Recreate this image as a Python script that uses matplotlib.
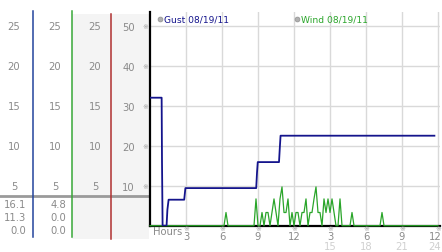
import matplotlib
matplotlib.use("Agg")
import matplotlib.pyplot as plt
import numpy as np
from matplotlib.patches import Rectangle
from matplotlib.transforms import blended_transform_factory

# ---------------- data ----------------
gust_hours = [0, 0.97, 1.0, 1.05, 1.38, 1.45, 1.55, 2.85, 2.95, 8.85, 8.92, 8.98, 10.75, 10.82, 10.88, 23.7]
gust_vals = [32, 32, 16, 0, 0, 4, 6.5, 6.5, 9.4, 9.4, 13.4, 15.9, 15.9, 19.6, 22.5, 22.5]

wind_step_h = 1 / 6  # 10-minute samples
wind_vals = [
    0, 0, 0, 0, 0, 0, 0, 0, 0, 0, 0, 0, 0, 0, 0, 0, 0, 0, 0, 0,
    0, 0, 0, 0, 0, 0, 0, 0, 0, 0, 0, 0, 0, 0, 0, 0, 0, 0, 3.3, 0,
    0, 0, 0, 0, 0, 0, 0, 0, 0, 0, 0, 0, 0, 6.7, 0, 0, 3.3, 0, 3.3, 3.3,
    0, 3.3, 6.7, 3.3, 0, 6.7, 9.7, 3.3, 3.3, 6.7, 0, 3.3, 0, 3.3, 3.3, 0, 3.3, 3.3, 6.7, 0,
    3.3, 3.3, 6.7, 9.7, 3.3, 3.3, 0, 6.7, 3.3, 6.7, 3.3, 6.7, 3.3, 0, 0, 6.7, 0, 0, 0, 0,
    0, 3.3, 0, 0, 0, 0, 0, 0, 0, 0, 0, 0, 0, 0, 0, 0, 3.3, 0, 0, 0,
    0, 0, 0, 0, 0, 0, 0, 0, 0, 0, 0, 0, 0, 0, 0, 0, 0, 0, 0, 0,
    0, 0, 0, 0, 0,
]

main_yticks = [10, 20, 30, 40, 50]
main_xticks = [3, 6, 9, 12, 15, 18, 21, 24]
main_xlabels = ["3", "6", "9", "12", "3", "6", "9", "12"]
second_row_ticks = [15, 18, 21, 24]
second_row_labels = ["15", "18", "21", "24"]

left_scale = [25, 20, 15, 10, 5]
stats_col1 = ["16.1", "11.3", "0.0"]
stats_col2 = ["4.8", "0.0", "0.0"]

legend_labels = ["Gust 08/19/11", "Wind 08/19/11"]

# ---------------- style / layout ----------------
W, H = 442, 253
GUST = "#14148c"
WIND = "#2aa52a"
GRAY_TXT = "#8a8a8a"
GRID = "#d9d9d9"
FS = 7.2
plt.rcParams["font.family"] = ["DejaVu Sans"]

fig = plt.figure(figsize=(W / 100, H / 100), dpi=100)
fig.patch.set_facecolor("white")

base_px = 226.7  # baseline y (from top)
top_px = 12.7
ax_h = base_px - top_px

# ---------------- left panel ----------------
axl = fig.add_axes([0, (H - base_px) / H, 149 / W, ax_h / H])
axl.set_xlim(0, 149)
axl.set_ylim(0, ax_h / 8)
axl.axis("off")
axl.set_zorder(1)


def v(ypx):
    return (base_px - ypx) / 8


axl.add_patch(Rectangle((72, v(240)), 77, v(15) - v(240), facecolor="#f4f4f4",
                        edgecolor="none", clip_on=False, zorder=0))
axl.plot([0, 149], [v(197), v(197)], color="#9a9a9a", lw=2, clip_on=False, zorder=2)
axl.plot([33, 33], [v(238), v(12)], color="#23449c", lw=1.1, clip_on=False, zorder=3)
axl.plot([72, 72], [v(238), v(12)], color="#38a838", lw=1.1, clip_on=False, zorder=3)
axl.plot([111, 111], [v(240), v(15)], color="#b03030", lw=1.1, clip_on=False, zorder=3)

for xc in [14, 55, 95]:
    for val in left_scale:
        axl.text(xc, val, str(val), fontsize=FS, color=GRAY_TXT, ha="center",
                 va="center", clip_on=False)

for ypx, a, b in zip([205, 218, 231.5], stats_col1, stats_col2):
    axl.text(26, v(ypx), a, fontsize=FS, color=GRAY_TXT, ha="right", va="center", clip_on=False)
    axl.text(66.5, v(ypx), b, fontsize=FS, color=GRAY_TXT, ha="right", va="center", clip_on=False)

# ---------------- main axes ----------------
ax = fig.add_axes([150 / W, (H - base_px) / H, 290 / W, ax_h / H])
ax.set_zorder(2)
ax.set_xlim(0, 290 / 12)
ax.set_ylim(0, 53.5)
ax.set_facecolor("white")
for s in ["top", "right"]:
    ax.spines[s].set_visible(False)
ax.spines["left"].set_linewidth(1.6)
ax.spines["bottom"].set_linewidth(1.6)
ax.spines["left"].set_color("black")
ax.spines["bottom"].set_color("black")

ax.set_xticks(main_xticks)
ax.set_xticklabels([])
ax.set_yticks(main_yticks)
ax.set_yticklabels([str(v_) for v_ in main_yticks], fontsize=FS, color=GRAY_TXT)
ax.tick_params(axis="x", length=0)
ax.tick_params(axis="y", length=0, pad=11)
ax.grid(True, color=GRID, lw=1)
ax.set_axisbelow(True)

# data lines
wind_hours = np.arange(len(wind_vals)) * wind_step_h
ax.plot(wind_hours, wind_vals, color=WIND, lw=0.9, zorder=3, clip_on=False)
ax.plot(gust_hours, gust_vals, color=GUST, lw=1.3, zorder=4)

tr_x = blended_transform_factory(ax.transData, ax.transAxes)
tr_y = blended_transform_factory(ax.transAxes, ax.transData)

# x labels (two rows)
row1_y = -(237 - base_px) / ax_h
row2_y = -(247.5 - base_px) / ax_h
for h, lab in zip(main_xticks, main_xlabels):
    if h == main_xticks[-1]:
        ax.text(h + 3.3 / 12, row1_y, lab, transform=tr_x, fontsize=FS, color=GRAY_TXT,
                ha="right", va="center", clip_on=False)
    else:
        ax.text(h, row1_y, lab, transform=tr_x, fontsize=FS, color=GRAY_TXT,
                ha="center", va="center", clip_on=False)
for h, lab in zip(second_row_ticks, second_row_labels):
    if h == second_row_ticks[-1]:
        ax.text(h + 3.3 / 12, row2_y, lab, transform=tr_x, fontsize=FS, color="#d0d0d0",
                ha="right", va="center", clip_on=False)
    else:
        ax.text(h, row2_y, lab, transform=tr_x, fontsize=FS, color="#d0d0d0",
                ha="center", va="center", clip_on=False)

# small marks next to ticks
for h in main_xticks:
    ax.text(h, -(229.5 - base_px) / ax_h, "\u203b", transform=tr_x, fontsize=5,
            color="#a0a0a0", ha="center", va="center", clip_on=False)
for val in main_yticks:
    ax.text(-0.017, val, "\u203b", transform=tr_y, fontsize=5, color="#a0a0a0",
            ha="center", va="center", clip_on=False)
ax.text(0.25, -(232 - base_px) / ax_h, "Hours", transform=tr_x, fontsize=FS,
        color=GRAY_TXT, ha="left", va="center", clip_on=False)

# legend
leg_y = (base_px - 20) / ax_h
for xpx, lab, col in [(160, legend_labels[0], GUST), (297, legend_labels[1], WIND)]:
    xf = (xpx - 150) / 290
    ax.plot([xf], [leg_y], marker="o", ms=3.5, color="#b0b0b0", mec="#909090",
            mew=0.5, transform=ax.transAxes, clip_on=False, zorder=5)
    ax.text(xf + 4 / 290, leg_y, lab, transform=ax.transAxes, fontsize=6.6,
            color=col, ha="left", va="center", clip_on=False)

fig.savefig("out.png", dpi=100, facecolor="white")
